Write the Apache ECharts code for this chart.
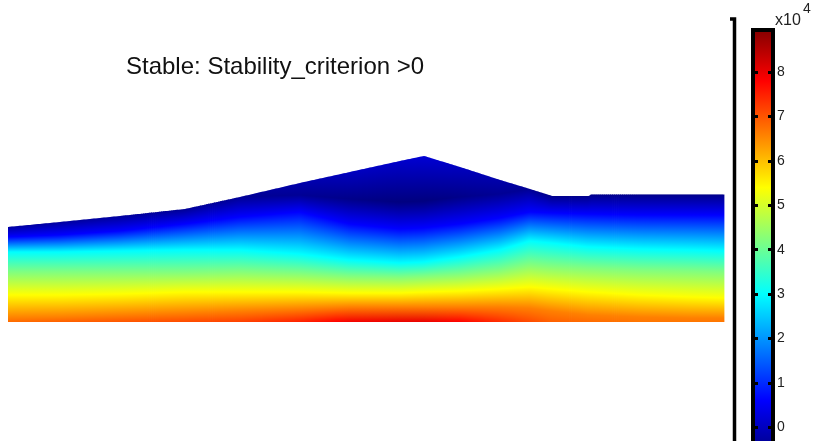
<!DOCTYPE html>
<html>
<head>
<meta charset="utf-8">
<script src="https://cdn.jsdelivr.net/npm/echarts@6/dist/echarts.min.js"></script>
<style>
  html, body { margin: 0; padding: 0; background: #fff; }
  #main { width: 816px; height: 441px; }
</style>
</head>
<body>
<div id="main"></div>
<script>
// profile stations along the section and the field (values x10^4)
const stationX  = [0, 52, 112, 177, 232, 292, 342, 392, 416, 452, 492, 522, 544, 581, 583, 632, 682, 716];
const surfElev  = [95, 100, 106, 113, 125, 139, 150, 161, 166, 155, 142, 133, 126, 126, 127.5, 127.5, 127.5, 127.5];
const surfVal   = [-0.3, -0.3, -0.35, -0.4, -0.4, -0.2, 0.0, 0.1, 0.2, 0.0, -0.2, -0.4, -0.5, -0.5, -0.5, -0.5, -0.5, -0.5];
// darkest point of each column (same as surface where the column has no inner low)
const coreElev  = [95, 100, 106, 113, 125, 127, 123, 120, 121, 125, 128, 133, 126, 126, 127.5, 127.5, 127.5, 127.5];
const coreVal   = [-0.3, -0.3, -0.35, -0.4, -0.4, -0.4, -0.5, -0.6, -0.6, -0.5, -0.4, -0.4, -0.5, -0.5, -0.5, -0.5, -0.5, -0.5];
// elevation where the field crosses each contour level
const isoLevels = [0.6, 3.0, 4.2, 5.4, 6.6];
const iso06     = [85, 87, 91, 98, 105, 110, 98, 93, 94, 98, 104, 110, 109, 108, 108, 107, 107, 107];
const iso30     = [70, 70, 71, 72, 72, 68, 62, 59, 60, 65, 72, 81, 79, 75, 75, 73, 72, 71];
const iso42     = [50, 50, 50, 50, 51, 49, 46, 45, 46, 48, 52, 58, 56, 54, 54, 52, 51, 50];
const iso54     = [27, 27, 28, 30, 30, 30, 29, 29, 30, 31, 33, 35, 33, 30, 30, 27, 25, 24];
const iso66     = [4, 5, 7, 9, 11, 13, 15, 15, 15, 15, 15, 14, 11, 7, 7, 5, 4, 4];
const baseVal   = [6.8, 6.9, 7.0, 7.1, 7.2, 7.5, 7.9, 8.0, 8.0, 7.8, 7.4, 7.1, 6.9, 6.8, 6.8, 6.7, 6.7, 6.7];

const cbTicks = [0, 1, 2, 3, 4, 5, 6, 7, 8];
const jetMin = -0.6, jetMax = 9.0;

function jet(v) {
  const t = (v - jetMin) / (jetMax - jetMin);
  const c = k => Math.round(255 * Math.max(0, Math.min(1, 1.5 - Math.abs(4 * t - k))));
  return 'rgb(' + c(3) + ',' + c(2) + ',' + c(1) + ')';
}

function columnStops(api, i) {
  const x = stationX[i];
  const py = e => api.coord([x, e])[1];
  const s = [
    { y: py(surfElev[i]), v: surfVal[i] },
    { y: py(coreElev[i]), v: coreVal[i] }
  ];
  [iso06, iso30, iso42, iso54, iso66].forEach((arr, k) => s.push({ y: py(arr[i]), v: isoLevels[k] }));
  s.push({ y: py(0), v: baseVal[i] });
  return s;
}

function renderSection(params, api) {
  const i = params.dataIndex;
  if (i >= stationX.length - 1) return;
  const xa = api.coord([stationX[i], 0])[0];
  const xb = api.coord([stationX[i + 1], 0])[0];
  const A = columnStops(api, i), B = columnStops(api, i + 1);
  const baseY = api.coord([0, 0])[1];
  const m = Math.max(1, Math.round((xb - xa) / 2));
  const kids = [];
  for (let j = 0; j < m; j++) {
    const f0 = j / m, f1 = (j + 1) / m, fm = (f0 + f1) / 2;
    const x0 = xa + (xb - xa) * f0 - (i === 0 && j === 0 ? 0 : 0.4);
    const x1 = xa + (xb - xa) * f1 + 0.4;
    const t0 = A[0].y + (B[0].y - A[0].y) * f0;
    const t1 = A[0].y + (B[0].y - A[0].y) * f1;
    const y0 = Math.min(t0, t1);
    let last = 0;
    const stops = A.map((sa, k) => {
      const sb = B[k];
      const y = sa.y + (sb.y - sa.y) * fm;
      const v = sa.v + (sb.v - sa.v) * fm;
      let off = (y - y0) / (baseY - y0);
      off = Math.max(last, Math.min(1, Math.max(0, off)));
      last = off;
      return { offset: off, color: jet(v) };
    });
    kids.push({
      type: 'polygon',
      shape: { points: [[x0, t0], [x1, t1], [x1, baseY], [x0, baseY]] },
      style: { fill: new echarts.graphic.LinearGradient(0, y0, 0, baseY, stops, true) },
      silent: true
    });
  }
  return { type: 'group', children: kids };
}

function renderColorbar(params, api) {
  const tl = api.coord([0, 8.95]);
  const br = api.coord([1, -1]);
  const gTop = api.coord([0, jetMax])[1];
  const gBot = api.coord([0, jetMin])[1];
  const stops = [0, 0.125, 0.375, 0.625, 0.875, 1].map(t => ({
    offset: t, color: jet(jetMax - t * (jetMax - jetMin))
  }));
  return {
    type: 'rect',
    shape: { x: tl[0], y: tl[1], width: br[0] - tl[0], height: br[1] - tl[1] },
    style: {
      fill: new echarts.graphic.LinearGradient(0, gTop, 0, gBot, stops, true),
      stroke: '#000', lineWidth: 4
    },
    silent: true
  };
}

const chart = echarts.init(document.getElementById('main'));
const cbAxis = {
  gridIndex: 1, type: 'value', min: 0, max: 8.95, interval: 1, z: 10,
  axisLine: { show: false }, splitLine: { show: false },
  axisTick: { show: true, inside: true, length: 5, lineStyle: { color: '#000', width: 3 } }
};
chart.setOption({
  animation: false,
  backgroundColor: '#fff',
  grid: [
    { left: 8, top: 0, width: 716, height: 322 },
    { left: 753, top: 30, width: 20, height: 397.2 }
  ],
  xAxis: [
    { gridIndex: 0, type: 'value', min: 0, max: 716, show: false },
    { gridIndex: 1, type: 'value', min: 0, max: 1, show: false }
  ],
  yAxis: [
    { gridIndex: 0, type: 'value', min: 0, max: 322, show: false },
    Object.assign({}, cbAxis, { position: 'left', axisLabel: { show: false } }),
    Object.assign({}, cbAxis, {
      position: 'right',
      axisLabel: {
        margin: 4, fontSize: 14, color: '#222', fontFamily: 'Liberation Sans, Arial, sans-serif',
        formatter: v => (cbTicks.indexOf(v) >= 0 ? String(v) : '')
      }
    })
  ],
  graphic: [
    {
      type: 'text', x: 126, y: 67,
      style: {
        text: 'Stable: Stability_criterion >0', fontSize: 24,
        fontFamily: 'Liberation Sans, Arial, sans-serif', fill: '#111',
        verticalAlign: 'middle', textVerticalAlign: 'middle'
      }
    },
    {
      type: 'text', x: 775, y: 21,
      style: { text: 'x10', fontSize: 16, fontFamily: 'Liberation Sans, Arial, sans-serif', fill: '#222', verticalAlign: 'middle', textVerticalAlign: 'middle' }
    },
    {
      type: 'text', x: 803, y: 9.5,
      style: { text: '4', fontSize: 14, fontFamily: 'Liberation Sans, Arial, sans-serif', fill: '#222', verticalAlign: 'middle', textVerticalAlign: 'middle' }
    },
    {
      type: 'polyline',
      shape: { points: [[730, 19], [734.5, 19], [734.5, 441]] },
      style: { stroke: '#000', lineWidth: 3.5, fill: null }
    }
  ],
  series: [
    {
      type: 'custom', xAxisIndex: 0, yAxisIndex: 0,
      data: stationX.map((x, i) => [x, surfElev[i]]),
      renderItem: renderSection
    },
    {
      type: 'custom', xAxisIndex: 1, yAxisIndex: 1,
      data: [[0, 0]],
      renderItem: renderColorbar,
      z: 2
    }
  ]
});
</script>
</body>
</html>
